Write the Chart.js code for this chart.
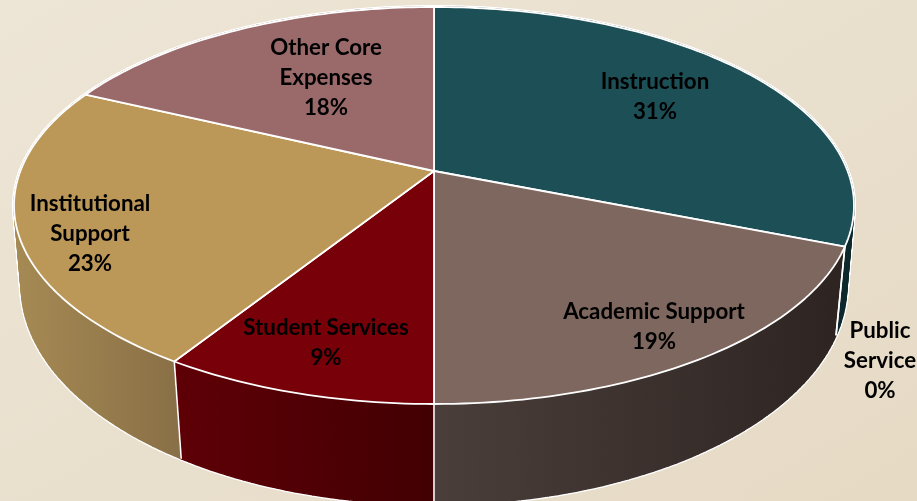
<!DOCTYPE html>
<html>
<head>
<meta charset="utf-8">
<title>Core Expenses</title>
<script src="https://cdn.jsdelivr.net/npm/chart.js@4"></script>
<style>
  html, body { margin: 0; padding: 0; width: 917px; height: 501px; overflow: hidden; }
  body { background: linear-gradient(150deg, #ede5d6 0%, #e9dfcd 55%, #e6dac4 100%); }
  #wrap { position: relative; width: 917px; height: 501px; }
</style>
</head>
<body>
<div id="wrap"><canvas id="pie"></canvas></div>
<script>
const categories = ['Instruction', 'Public Service', 'Academic Support', 'Student Services', 'Institutional Support', 'Other Core Expenses'];
const percents = [31, 0, 19, 9, 23, 18];

// how the names wrap in the picture
const labelLines = [['Instruction'], ['Public', 'Service'], ['Academic Support'], ['Student Services'], ['Institutional', 'Support'], ['Other Core', 'Expenses']];

const topColors = ['#1c4f56', '#14393e', '#7e675e', '#780008', '#bc9858', '#9a696a'];
// wall shading, left colour then right colour
const wallColors = [['#0f2f34', '#0c282c'], ['#0c282c', '#0c282c'], ['#4a3e3a', '#2d2421'], ['#5e0006', '#420003'], ['#a68a54', '#8a7046'], ['#7a5354', '#7a5354']];
// label centres (first line) in page pixels
const labelSpots = [[655, 82], [880, 331], [654, 312], [326, 328], [90, 204], [326, 48]];

// perspective of the tilted disc
const view = { cx: 434, cy: 171, a: 413.6, b: 162.8, k: 0.1738, drop: 83 };

function topPoint(t) {
  const u = Math.cos(t), v = Math.sin(t), w = 1 - view.k * v;
  return [view.cx + view.a * u / w, (view.cy + view.b * v) / w];
}
function bottomPoint(t) {
  const p = topPoint(t), v = Math.sin(t), w = 1 - view.k * v;
  // the sides lean in a little less near the silhouette
  const rest = 1 - Math.abs(v);
  const shrink = 0.973 + 0.014 * rest * rest;
  return [view.cx + (p[0] - view.cx) * shrink, p[1] + view.drop / w];
}
function rim(ctx, t0, t1, fn, lineFirst) {
  const steps = Math.max(1, Math.ceil(Math.abs(t1 - t0) / 0.02));
  for (let i = 0; i <= steps; i++) {
    const p = fn(t0 + (t1 - t0) * i / steps);
    if (i === 0 && !lineFirst) ctx.moveTo(p[0], p[1]); else ctx.lineTo(p[0], p[1]);
  }
}
// one narrow strip of wall between two angles
function quad(ctx, t0, t1) {
  const a = topPoint(t0), b = topPoint(t1), c = bottomPoint(t1), d = bottomPoint(t0);
  ctx.beginPath();
  ctx.moveTo(a[0], a[1]);
  ctx.lineTo(b[0], b[1]);
  ctx.lineTo(c[0], c[1]);
  ctx.lineTo(d[0], d[1]);
  ctx.closePath();
}
function eachStrip(s, e, fn) {
  const steps = Math.max(1, Math.ceil((e - s) / 0.02));
  for (let n = 0; n < steps; n++) fn(s + (e - s) * n / steps, s + (e - s) * (n + 1) / steps);
}

const disc3d = {
  id: 'disc3d',
  beforeDatasetDraw(chart, args) {
    const ctx = chart.ctx;
    const arcs = chart.getDatasetMeta(args.index).data;
    const order = arcs.map((a, i) => i).sort((p, q) =>
      Math.sin((arcs[p].startAngle + arcs[p].endAngle) / 2) - Math.sin((arcs[q].startAngle + arcs[q].endAngle) / 2));

    ctx.save();
    ctx.lineJoin = 'round';

    // white halo of the whole wall, then the fills on top leave only the outline
    ctx.strokeStyle = '#ffffff';
    ctx.lineWidth = 4;
    order.forEach(i => {
      eachStrip(arcs[i].startAngle, arcs[i].endAngle, (t0, t1) => {
        quad(ctx, t0, t1);
        ctx.stroke();
      });
    });

    // walls, the top face hides whatever is behind it
    order.forEach(i => {
      const s = arcs[i].startAngle, e = arcs[i].endAngle;
      if (e - s < 1e-6) return;
      let minX = 9999, maxX = -9999;
      for (let t = s; t <= e; t += 0.02) {
        const x = topPoint(t)[0];
        if (x < minX) minX = x;
        if (x > maxX) maxX = x;
      }
      const g = ctx.createLinearGradient(minX, 0, maxX + 1, 0);
      g.addColorStop(0, wallColors[i][0]);
      g.addColorStop(1, wallColors[i][1]);
      ctx.fillStyle = g;
      ctx.strokeStyle = g;
      ctx.lineWidth = 1.4;
      eachStrip(s, e, (t0, t1) => {
        quad(ctx, t0, t1);
        ctx.fill();
        ctx.stroke();
      });
    });

    // slice edges on the wall
    ctx.strokeStyle = '#ffffff';
    ctx.lineWidth = 1.6;
    arcs.forEach(arc => {
      const a = topPoint(arc.startAngle), b = bottomPoint(arc.startAngle);
      ctx.beginPath();
      ctx.moveTo(a[0], a[1]);
      ctx.lineTo(b[0], b[1]);
      ctx.stroke();
    });

    // top face
    ctx.lineWidth = 1.8;
    arcs.forEach((arc, i) => {
      if (arc.endAngle - arc.startAngle < 1e-6) return;
      ctx.beginPath();
      ctx.moveTo(view.cx, view.cy);
      rim(ctx, arc.startAngle, arc.endAngle, topPoint, true);
      ctx.closePath();
      ctx.fillStyle = topColors[i];
      ctx.fill();
      ctx.stroke();
    });
    ctx.restore();
    return false;
  },
  afterDraw(chart) {
    const ctx = chart.ctx;
    ctx.save();
    ctx.font = 'bold 22.3px Lato';
    ctx.fillStyle = '#000000';
    ctx.textAlign = 'center';
    ctx.textBaseline = 'middle';
    categories.forEach((name, i) => {
      const lines = labelLines[i].concat(percents[i] + '%');
      lines.forEach((txt, n) => ctx.fillText(txt, labelSpots[i][0], labelSpots[i][1] + n * 30));
    });
    ctx.restore();
  }
};

new Chart(document.getElementById('pie'), {
  type: 'pie',
  data: {
    labels: categories,
    datasets: [{ data: percents, backgroundColor: topColors }]
  },
  options: {
    responsive: true,
    maintainAspectRatio: false,
    animation: false,
    plugins: { legend: { display: false }, tooltip: { enabled: false } }
  },
  plugins: [disc3d]
});
</script>
</body>
</html>
